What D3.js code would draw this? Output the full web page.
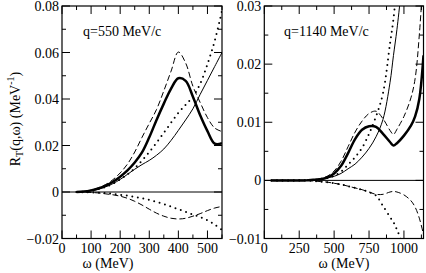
<!DOCTYPE html>
<html>
<head>
<meta charset="utf-8">
<script src="https://cdn.jsdelivr.net/npm/d3@7"></script>
<style>
  body { margin: 0; background: #fff; }
  svg text { font-family: "Liberation Serif", Tinos, "Nimbus Roman", "Noto Serif", "DejaVu Serif", FreeSerif, Times, serif; }
</style>
</head>
<body>
<div id="chart"></div>
<script>
// ---- data ----
// left panel, q = 550 MeV/c
const omegaL = [50, 75, 100, 125, 150, 175, 200, 225, 250, 275, 300, 325, 350, 375, 400, 425, 450, 475, 500, 525, 550];
const thickL = [0, 0.0002, 0.0007, 0.0015, 0.0027, 0.0044, 0.0066, 0.0093, 0.0127, 0.017, 0.0235, 0.031, 0.038, 0.0445, 0.0489, 0.0478, 0.041, 0.033, 0.0262, 0.0208, 0.021];
const dashL = [0, 0.0002, 0.0008, 0.0018, 0.0032, 0.0053, 0.0082, 0.012, 0.0172, 0.0235, 0.0295, 0.0355, 0.0435, 0.052, 0.0602, 0.0555, 0.0455, 0.0385, 0.032, 0.0275, 0.026];
const dotL = [0, 0.0001, 0.0005, 0.0012, 0.0022, 0.0036, 0.0054, 0.0076, 0.0102, 0.0135, 0.0172, 0.0212, 0.0255, 0.0298, 0.034, 0.0375, 0.041, 0.0465, 0.055, 0.065, 0.078];
const thinL = [0, 0.0001, 0.0005, 0.0012, 0.0022, 0.0036, 0.0054, 0.0076, 0.0098, 0.0118, 0.0136, 0.0158, 0.0185, 0.0222, 0.0265, 0.031, 0.0358, 0.042, 0.048, 0.054, 0.06];
const dashNegL = [0, -0.0001, -0.0002, -0.0004, -0.0008, -0.0012, -0.0018, -0.0027, -0.004, -0.0056, -0.0074, -0.0091, -0.0104, -0.0113, -0.0116, -0.0113, -0.0104, -0.0093, -0.008, -0.0069, -0.0062];
const dotNegL = [0, -0.0001, -0.0002, -0.0003, -0.0005, -0.0008, -0.0012, -0.0016, -0.0021, -0.0027, -0.0034, -0.0043, -0.0052, -0.0063, -0.0074, -0.0085, -0.0097, -0.0108, -0.0122, -0.014, -0.0163];

// right panel, q = 1140 MeV/c (null = off the top/bottom of the frame)
const omegaR = [50, 100, 150, 200, 250, 300, 350, 400, 450, 500, 550, 600, 650, 700, 750, 800, 850, 900, 925, 950, 1000, 1050, 1080, 1110, 1140];
const thickR = [0, 0, 0, 0, 0, 0, 0.0001, 0.0002, 0.0005, 0.0012, 0.0025, 0.0047, 0.0071, 0.0087, 0.0093, 0.0092, 0.008, 0.0066, 0.006, 0.0064, 0.0077, 0.0094, 0.011, 0.014, 0.0215];
const dashR = [0, 0, 0, 0, 0, 0, 0.0001, 0.0003, 0.0007, 0.0016, 0.0033, 0.0058, 0.0083, 0.0102, 0.0115, 0.0119, 0.0106, 0.0086, 0.0079, 0.0088, 0.011, 0.0142, 0.0175, 0.025, 0.036];
const dotR = [0, 0, 0, 0, 0, 0, 0.0001, 0.0002, 0.0004, 0.0008, 0.0015, 0.0027, 0.004, 0.0056, 0.008, 0.011, 0.015, 0.0235, 0.0278, 0.034, null, null, null, null, null];
const thinR = [0, 0, 0, 0, 0, 0, 0.0001, 0.0002, 0.0004, 0.0007, 0.0012, 0.002, 0.0028, 0.004, 0.0055, 0.0075, 0.0105, 0.0168, 0.0215, 0.026, 0.037, null, null, null, null];
const dashNegR = [0, 0, 0, 0, 0, 0, -0.0001, -0.0002, -0.0003, -0.0005, -0.0007, -0.001, -0.0013, -0.0016, -0.002, -0.0024, -0.0024, -0.002, -0.0019, -0.002, -0.0025, -0.0035, -0.0046, -0.0065, -0.0093];
const dotNegR = [0, 0, 0, 0, 0, 0, -0.0001, -0.0002, -0.0003, -0.0005, -0.0007, -0.001, -0.0013, -0.0016, -0.002, -0.0026, -0.0044, -0.0063, -0.0072, -0.0085, -0.0115, null, null, null, null];

const xTicksL = [0, 100, 200, 300, 400, 500];
const yTicksL = [-0.02, 0, 0.02, 0.04, 0.06, 0.08];
const xTicksR = [0, 250, 500, 750, 1000];
const yTicksR = [-0.01, 0, 0.01, 0.02, 0.03];

const svg = d3.select("#chart").append("svg")
    .attr("width", 426)
    .attr("height", 273);

// line styles
const styles = {
    thick: {w: 2.5, dash: null},
    thin: {w: 1, dash: null},
    dash: {w: 1, dash: "6,3"},
    dot: {w: 2, dash: "0,5.6"}
};

function panel(opt) {
    const x = d3.scaleLinear().domain(opt.xDomain).range([opt.left, opt.right]);
    const y = d3.scaleLinear().domain(opt.yDomain).range([opt.bottom, opt.top]);
    const g = svg.append("g");

    g.append("clipPath").attr("id", opt.id)
        .append("rect")
        .attr("x", opt.left).attr("y", opt.top)
        .attr("width", opt.right - opt.left).attr("height", opt.bottom - opt.top);

    // zero line
    g.append("line")
        .attr("x1", opt.left).attr("x2", opt.right)
        .attr("y1", y(0)).attr("y2", y(0))
        .attr("stroke", "#000").attr("stroke-width", 1);

    const curves = g.append("g").attr("clip-path", `url(#${opt.id})`);
    opt.series.forEach(function(s) {
        const st = styles[s.style];
        const pts = opt.omega.map((w, i) => [w, s.values[i]]);
        curves.append("path")
            .datum(pts)
            .attr("fill", "none")
            .attr("stroke", "#000")
            .attr("stroke-width", st.w)
            .attr("stroke-dasharray", st.dash)
            .attr("stroke-linecap", s.style === "dot" ? "round" : "butt")
            .attr("d", d3.line()
                .defined(d => d[1] !== null)
                .curve(d3.curveCatmullRom.alpha(0.5))
                .x(d => x(d[0]))
                .y(d => y(d[1])));
    });

    // ticks on all four sides, pointing inward
    const major = 8, minor = 4;
    const tk = g.append("g").attr("stroke", "#000").attr("stroke-width", 1);
    d3.range(opt.xDomain[0], opt.xDomain[1] + 1e-9, opt.xMinor).forEach(function(v) {
        const r = v / opt.xMajor;
        const len = (Math.abs(r - Math.round(r)) < 1e-6) ? major : minor;
        tk.append("line").attr("x1", x(v)).attr("x2", x(v)).attr("y1", opt.bottom).attr("y2", opt.bottom - len);
        tk.append("line").attr("x1", x(v)).attr("x2", x(v)).attr("y1", opt.top).attr("y2", opt.top + len);
    });
    d3.range(opt.yDomain[0], opt.yDomain[1] + 1e-9, opt.yMinor).forEach(function(v) {
        const r = v / opt.yMajor;
        const len = (Math.abs(r - Math.round(r)) < 1e-6) ? major : minor;
        tk.append("line").attr("y1", y(v)).attr("y2", y(v)).attr("x1", opt.left).attr("x2", opt.left + len);
        tk.append("line").attr("y1", y(v)).attr("y2", y(v)).attr("x1", opt.right).attr("x2", opt.right - len);
    });

    // frame
    g.append("rect")
        .attr("x", opt.left).attr("y", opt.top)
        .attr("width", opt.right - opt.left).attr("height", opt.bottom - opt.top)
        .attr("fill", "none").attr("stroke", "#000").attr("stroke-width", 1.2);

    // tick labels
    g.selectAll(".xl").data(opt.xTicks).enter().append("text")
        .attr("x", d => x(d)).attr("y", opt.bottom + 14)
        .attr("text-anchor", "middle")
        .attr("font-size", 14)
        .text(d => d);
    g.selectAll(".yl").data(opt.yTicks).enter().append("text")
        .attr("x", opt.left - 3).attr("y", d => y(d) + 5)
        .attr("text-anchor", "end")
        .attr("font-size", 14)
        .text(d => d === 0 ? "0" : d3.format(".2f")(d));

    g.append("text")
        .attr("x", opt.labelX).attr("y", 36)
        .attr("font-size", 14)
        .text(opt.label);

    g.append("text")
        .attr("x", opt.xTitleX).attr("y", 268)
        .attr("text-anchor", "middle")
        .attr("font-size", 14)
        .text("ω (MeV)");
}

panel({
    id: "clipL", left: 62, right: 222, top: 6, bottom: 238.5,
    xDomain: [0, 550], yDomain: [-0.02, 0.08],
    xMajor: 100, xMinor: 50, yMajor: 0.02, yMinor: 0.01,
    xTicks: xTicksL, yTicks: yTicksL,
    omega: omegaL,
    series: [
        {values: thinL, style: "thin"},
        {values: dotL, style: "dot"},
        {values: dashL, style: "dash"},
        {values: thickL, style: "thick"},
        {values: dashNegL, style: "dash"},
        {values: dotNegL, style: "dot"}
    ],
    label: "q=550 MeV/c", labelX: 83, xTitleX: 108
});

panel({
    id: "clipR", left: 264.3, right: 423.5, top: 6, bottom: 238.5,
    xDomain: [0, 1140], yDomain: [-0.01, 0.03],
    xMajor: 250, xMinor: 125, yMajor: 0.01, yMinor: 0.005,
    xTicks: xTicksR, yTicks: yTicksR,
    omega: omegaR,
    series: [
        {values: thinR, style: "thin"},
        {values: dotR, style: "dot"},
        {values: dashR, style: "dash"},
        {values: thickR, style: "thick"},
        {values: dashNegR, style: "dash"},
        {values: dotNegR, style: "dot"}
    ],
    label: "q=1140 MeV/c", labelX: 284, xTitleX: 344
});

// y axis title
const yt = svg.append("text")
    .attr("transform", "translate(20,119) rotate(-90)")
    .attr("text-anchor", "middle")
    .attr("font-size", 14);
yt.append("tspan").text("R");
yt.append("tspan").attr("font-size", 10).attr("dy", 3).text("T");
yt.append("tspan").attr("dy", -3).text("(q,ω) (MeV");
yt.append("tspan").attr("font-size", 10).attr("dy", -6).text("-1");
yt.append("tspan").attr("dy", 6).text(")");
</script>
</body>
</html>
